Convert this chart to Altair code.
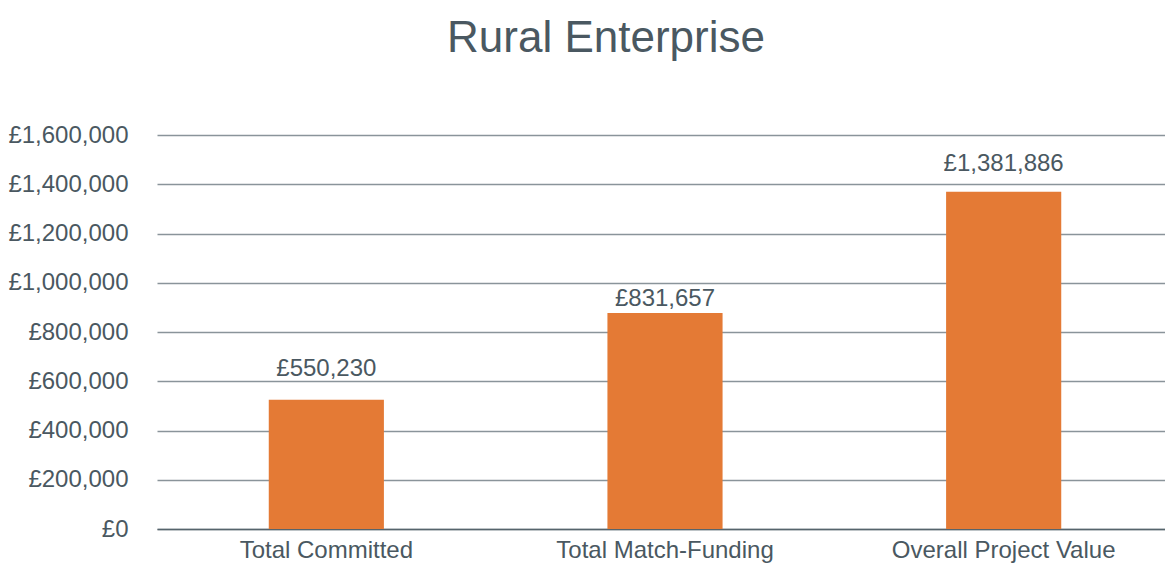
import altair as alt
import pandas as pd

categories = ["Total Committed", "Total Match-Funding", "Overall Project Value"]
bar_values = [525000, 877000, 1370000]
label_values = [550230, 831657, 1381886]
label_texts = ["£550,230", "£831,657", "£1,381,886"]
y_ticks = [0, 200000, 400000, 600000, 800000, 1000000, 1200000, 1400000, 1600000]

df = pd.DataFrame({
    "category": categories,
    "value": bar_values,
    "label_value": label_values,
    "label": label_texts,
})

TEXT = "#4a5861"
GRID = "#8a949a"
ZERO = "#56646c"
BAR = "#E47A35"
FONT = "Liberation Sans"

yscale = alt.Scale(domain=[0, 1600000], nice=False)

base = alt.Chart(df).encode(
    x=alt.X(
        "category:N",
        sort=categories,
        scale=alt.Scale(paddingInner=0.66, paddingOuter=0.33),
        axis=alt.Axis(
            title=None, labelAngle=0, labelFontSize=24, labelColor=TEXT,
            labelFont=FONT, labelPadding=9, labelLimit=0, ticks=False,
            domain=True, domainColor=ZERO, domainWidth=1.5, grid=False,
        ),
    )
)

bars = base.mark_bar(color=BAR).encode(
    y=alt.Y(
        "value:Q",
        scale=yscale,
        axis=alt.Axis(
            title=None, values=y_ticks,
            labelExpr="'£' + format(datum.value, ',')",
            labelFontSize=24, labelColor=TEXT, labelFont=FONT,
            labelPadding=29, ticks=False, domain=False,
            grid=True, gridColor=GRID, gridWidth=1.5,
        ),
    )
)

labels = base.mark_text(
    dy=-18, baseline="alphabetic", fontSize=24, color=TEXT, font=FONT
).encode(
    y=alt.Y("label_value:Q", scale=yscale),
    text="label:N",
)

chart = alt.layer(bars, labels).properties(
    width=1016,
    height=394,
    autosize=alt.AutoSizeParams(type="none"),
    padding={"left": 149, "top": 127, "right": -8, "bottom": 38},
    title=alt.TitleParams(
        "Rural Enterprise", fontSize=44, font=FONT, fontWeight="normal",
        color=TEXT, anchor="middle", frame="group", dx=-59, offset=62,
    ),
).configure_view(stroke=None)

chart.save("out.html", embed_options={"renderer": "svg", "actions": False})
